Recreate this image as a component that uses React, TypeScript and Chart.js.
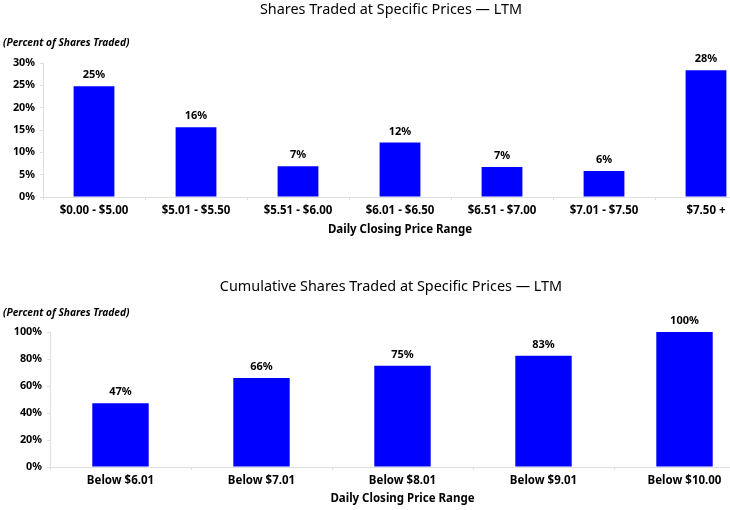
import React, { useEffect, useRef } from "react";
import { Chart, registerables } from "chart.js";

Chart.register(...registerables);

const rangeCategories = ["$0.00 - $5.00", "$5.01 - $5.50", "$5.51 - $6.00", "$6.01 - $6.50", "$6.51 - $7.00", "$7.01 - $7.50", "$7.50 +"];
const rangeValues = [24.8, 15.6, 6.9, 12.2, 6.7, 5.8, 28.4];
const rangeLabels = ["25%", "16%", "7%", "12%", "7%", "6%", "28%"];
const rangeTicks = [0, 5, 10, 15, 20, 25, 30];

const cumCategories = ["Below $6.01", "Below $7.01", "Below $8.01", "Below $9.01", "Below $10.00"];
const cumValues = [47.2, 65.9, 75.0, 82.5, 100];
const cumLabels = ["47%", "66%", "75%", "83%", "100%"];
const cumTicks = [0, 20, 40, 60, 80, 100];

const topTitle = "Shares Traded at Specific Prices \u2014 LTM";
const bottomTitle = "Cumulative Shares Traded at Specific Prices \u2014 LTM";
const unitLabel = "(Percent of Shares Traded)";
const axisTitle = "Daily Closing Price Range";

const FONT = "'Noto Sans', 'Liberation Sans', Arial, sans-serif";
const BLUE = "#0000ff";
const AXIS = "#dedede";

type Cfg = {
  categories: string[];
  values: number[];
  labels: string[];
  ticks: number[];
  max: number;
  title: string;
  titleY: number;
  unitY: number;
  axisTitleY: number;
  yWidth: number;
  xHeight: number;
  top: number;
  right: number;
};

function makeChart(canvas: HTMLCanvasElement, c: Cfg) {
  const overlay = {
    id: "overlay",
    afterDraw(chart: any) {
      const ctx = chart.ctx;
      const area = chart.chartArea;
      ctx.save();
      ctx.fillStyle = "#000";
      ctx.textAlign = "center";
      ctx.textBaseline = "middle";
      ctx.font = `14.4px ${FONT}`;
      ctx.fillText(c.title, chart.width / 2, c.titleY);
      ctx.textAlign = "left";
      ctx.font = `italic bold 10.2px ${FONT}`;
      ctx.fillText(unitLabel, 3, c.unitY);
      ctx.textAlign = "center";
      ctx.font = `bold 11.5px ${FONT}`;
      ctx.fillText(axisTitle, (area.left + area.right) / 2, c.axisTitleY);
      ctx.font = `bold 11px ${FONT}`;
      const meta = chart.getDatasetMeta(0);
      meta.data.forEach((bar: any, i: number) => {
        ctx.fillText(c.labels[i], bar.x, bar.y - 11);
      });
      ctx.restore();
    },
  };
  return new Chart(canvas, {
    type: "bar",
    data: {
      labels: c.categories,
      datasets: [
        {
          data: c.values,
          backgroundColor: BLUE,
          borderWidth: 0,
          barPercentage: 0.4,
          categoryPercentage: 1,
        },
      ],
    },
    options: {
      animation: false,
      responsive: false,
      maintainAspectRatio: false,
      layout: { padding: { top: c.top, right: c.right, left: 0, bottom: 0 } },
      plugins: {
        legend: { display: false },
        title: { display: false },
        tooltip: { enabled: false },
      },
      scales: {
        x: {
          offset: true,
          grid: {
            offset: true,
            drawOnChartArea: false,
            drawTicks: true,
            tickLength: 3,
            color: AXIS,
          },
          border: { color: AXIS, width: 1 },
          ticks: {
            color: "#000",
            font: { family: FONT, size: 11.5, weight: "bold" },
            padding: 4,
            maxRotation: 0,
            autoSkip: false,
          },
          afterFit(scale: any) {
            scale.height = c.xHeight;
          },
        },
        y: {
          min: 0,
          max: c.max,
          afterBuildTicks(scale: any) {
            scale.ticks = c.ticks.map((v) => ({ value: v }));
          },
          grid: {
            drawOnChartArea: false,
            drawTicks: true,
            tickLength: 3,
            color: AXIS,
          },
          border: { color: AXIS, width: 1 },
          ticks: {
            color: "#000",
            font: { family: FONT, size: 10.8, weight: "bold" },
            padding: 5,
            callback: (v: any) => `${v}%`,
          },
          afterFit(scale: any) {
            scale.width = c.yWidth;
          },
        },
      },
    },
    plugins: [overlay],
  } as any);
}

export default function App() {
  const topRef = useRef<HTMLCanvasElement>(null);
  const botRef = useRef<HTMLCanvasElement>(null);

  useEffect(() => {
    const a = makeChart(topRef.current!, {
      categories: rangeCategories,
      values: rangeValues,
      labels: rangeLabels,
      ticks: rangeTicks,
      max: 30,
      title: topTitle,
      titleY: 10,
      unitY: 43,
      axisTitleY: 230,
      yWidth: 43,
      xHeight: 58,
      top: 63,
      right: 25,
    });
    const b = makeChart(botRef.current!, {
      categories: cumCategories,
      values: cumValues,
      labels: cumLabels,
      ticks: cumTicks,
      max: 100,
      title: bottomTitle,
      titleY: 32,
      unitY: 58,
      axisTitleY: 244,
      yWidth: 50,
      xHeight: 43,
      top: 77,
      right: 27,
    });
    return () => {
      a.destroy();
      b.destroy();
    };
  }, []);

  return (
    <div
      style={{
        position: "absolute",
        left: 0,
        top: 0,
        width: 730,
        height: 510,
        overflow: "hidden",
        background: "#fff",
      }}
    >
      <canvas
        ref={topRef}
        width={782}
        height={255}
        style={{ position: "absolute", left: 0, top: 0, width: 782, height: 255 }}
      />
      <canvas
        ref={botRef}
        width={782}
        height={255}
        style={{ position: "absolute", left: 0, top: 255, width: 782, height: 255 }}
      />
    </div>
  );
}
